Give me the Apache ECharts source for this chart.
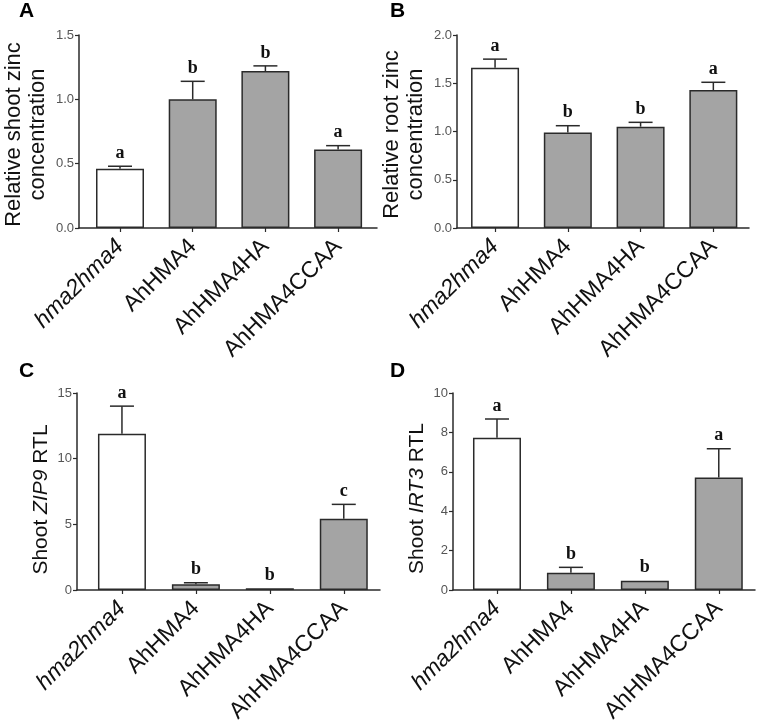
<!DOCTYPE html>
<html>
<head>
<meta charset="utf-8">
<script src="https://cdn.jsdelivr.net/npm/echarts@6/dist/echarts.min.js"></script>
<style>
html,body{margin:0;padding:0;background:#fff;}
#chart{width:757px;height:721px;}
</style>
</head>
<body>
<div id="chart"></div>
<script>
// ---------- data ----------
const categories = ['hma2hma4', 'AhHMA4', 'AhHMA4HA', 'AhHMA4CCAA'];

const shootZinc = [0.46, 1.00, 1.22, 0.61];
const shootZincErr = [0.02, 0.14, 0.04, 0.03];
const shootZincLetters = ['a', 'b', 'b', 'a'];

const rootZinc = [1.66, 0.99, 1.05, 1.43];
const rootZincErr = [0.09, 0.07, 0.045, 0.08];
const rootZincLetters = ['a', 'b', 'b', 'a'];

const zip9 = [11.9, 0.43, 0.13, 5.42];
const zip9Err = [2.1, 0.12, 0.0, 1.1];
const zip9Letters = ['a', 'b', 'b', 'c'];

const irt3 = [7.73, 0.88, 0.47, 5.71];
const irt3Err = [0.95, 0.27, 0.0, 1.46];
const irt3Letters = ['a', 'b', 'b', 'a'];

const yTicksA = {min: 0, max: 1.5, interval: 0.5};
const yTicksB = {min: 0, max: 2.0, interval: 0.5};
const yTicksC = {min: 0, max: 15, interval: 5};
const yTicksD = {min: 0, max: 10, interval: 2};

// ---------- style / layout ----------
const FONT = 'Liberation Sans, Arial, sans-serif';
const SERIF = 'Liberation Serif, Times New Roman, serif';
const AXIS = '#2a2a2a';
const WHITE = '#ffffff';
const GRAY = '#a4a4a4';

const panels = [
  {grid: {left: 79, top: 35, width: 298, height: 193}, xmin: -0.564, xmax: 3.535,
   y: yTicksA, dec: 1, vals: shootZinc, errs: shootZincErr, letters: shootZincLetters,
   name: 'Relative shoot zinc\nconcentration', nameSize: 22, nameGap: 29, namePad: [0, 6, 0, 0],
   label: 'A', lx: 19, ly: 1},
  {grid: {left: 457, top: 35, width: 292, height: 193}, xmin: -0.523, xmax: 3.49,
   y: yTicksB, dec: 1, vals: rootZinc, errs: rootZincErr, letters: rootZincLetters,
   name: 'Relative root zinc\nconcentration', nameSize: 22, nameGap: 29, namePad: [0, 6, 0, 0],
   label: 'B', lx: 390, ly: 1},
  {grid: {left: 77, top: 393, width: 303, height: 197}, xmin: -0.608, xmax: 3.49,
   y: yTicksC, dec: 0, vals: zip9, errs: zip9Err, letters: zip9Letters,
   name: '{n|Shoot }{i|ZIP9}{n| RTL}', nameSize: 21, nameGap: 12, namePad: [0, 16, 0, 0],
   label: 'C', lx: 19, ly: 361},
  {grid: {left: 453, top: 393, width: 302, height: 197}, xmin: -0.595, xmax: 3.49,
   y: yTicksD, dec: 0, vals: irt3, errs: irt3Err, letters: irt3Letters,
   name: '{n|Shoot }{i|IRT3}{n| RTL}', nameSize: 21, nameGap: 17, namePad: [0, 14, 0, 0],
   label: 'D', lx: 390, ly: 361}
];

const catIdx = categories.map((c, i) => i);

const option = {
  animation: false,
  backgroundColor: '#fff',
  title: [],
  grid: [],
  xAxis: [],
  yAxis: [],
  series: []
};

panels.forEach((p, k) => {
  option.title.push({
    text: p.label, left: p.lx, top: p.ly, padding: 0,
    textStyle: {fontFamily: FONT, fontSize: 21, fontWeight: 'bold', color: '#000'}
  });
  option.grid.push(Object.assign({containLabel: false, outerBoundsMode: 'none'}, p.grid));
  option.xAxis.push({
    type: 'value', gridIndex: k, min: p.xmin, max: p.xmax,
    splitLine: {show: false},
    axisLine: {show: true, onZero: false, lineStyle: {color: AXIS, width: 1.5}},
    axisTick: {show: true, customValues: catIdx, length: 4, lineStyle: {color: AXIS, width: 1.2}},
    axisLabel: {
      show: true, customValues: catIdx, rotate: 45, margin: 15, hideOverlap: false,
      formatter: v => {
        const name = categories[Math.round(v)];
        return Math.round(v) === 0 ? '{i|' + name + '}' : '{n|' + name + '}';
      },
      rich: {
        i: {fontFamily: FONT, fontSize: 23, fontStyle: 'italic', color: '#111'},
        n: {fontFamily: FONT, fontSize: 23, color: '#111'}
      }
    }
  });
  option.yAxis.push({
    type: 'value', gridIndex: k, min: p.y.min, max: p.y.max, interval: p.y.interval,
    splitLine: {show: false},
    axisLine: {show: true, onZero: false, lineStyle: {color: AXIS, width: 1.5}},
    axisTick: {show: true, length: 4, lineStyle: {color: AXIS, width: 1.2}},
    axisLabel: {
      fontFamily: FONT, fontSize: 13, color: '#555', margin: 5,
      formatter: v => v.toFixed(p.dec)
    },
    name: p.name, nameLocation: 'middle', nameGap: p.nameGap, nameRotate: 90,
    nameTextStyle: {
      fontFamily: FONT, fontSize: p.nameSize, color: '#111', lineHeight: 24, align: 'center',
      padding: p.namePad,
      rich: {
        n: {fontFamily: FONT, fontSize: p.nameSize, color: '#111'},
        i: {fontFamily: FONT, fontSize: p.nameSize, color: '#111', fontStyle: 'italic'}
      }
    }
  });
  option.series.push({
    type: 'bar', xAxisIndex: k, yAxisIndex: k, barWidth: 48,
    data: p.vals.map((v, i) => ({
      value: [i, v],
      itemStyle: {color: i === 0 ? WHITE : GRAY, borderColor: AXIS, borderWidth: 1.5}
    })),
    z: 2
  });
  option.series.push({
    type: 'custom', xAxisIndex: k, yAxisIndex: k, z: 3,
    data: p.vals.map((v, i) => [i, v, p.errs[i]]),
    renderItem: (params, api) => {
      const x = api.value(0), v = api.value(1), e = api.value(2);
      const base = api.coord([x, v]);
      const top = api.coord([x, v + e]);
      const children = [];
      if (e > 0) {
        children.push({type: 'line', shape: {x1: base[0], y1: base[1], x2: top[0], y2: top[1]},
          style: {stroke: AXIS, lineWidth: 1.5}});
        children.push({type: 'line', shape: {x1: top[0] - 12, y1: top[1], x2: top[0] + 12, y2: top[1]},
          style: {stroke: AXIS, lineWidth: 1.5}});
      }
      children.push({type: 'text', x: top[0], y: top[1] - 4,
        style: {text: p.letters[params.dataIndex], fontFamily: SERIF, fontSize: 18, fontWeight: 'bold',
          fill: '#111', align: 'center', verticalAlign: 'bottom'}});
      return {type: 'group', children: children};
    }
  });
});

const chart = echarts.init(document.getElementById('chart'), null, {renderer: 'canvas'});
chart.setOption(option);
</script>
</body>
</html>
